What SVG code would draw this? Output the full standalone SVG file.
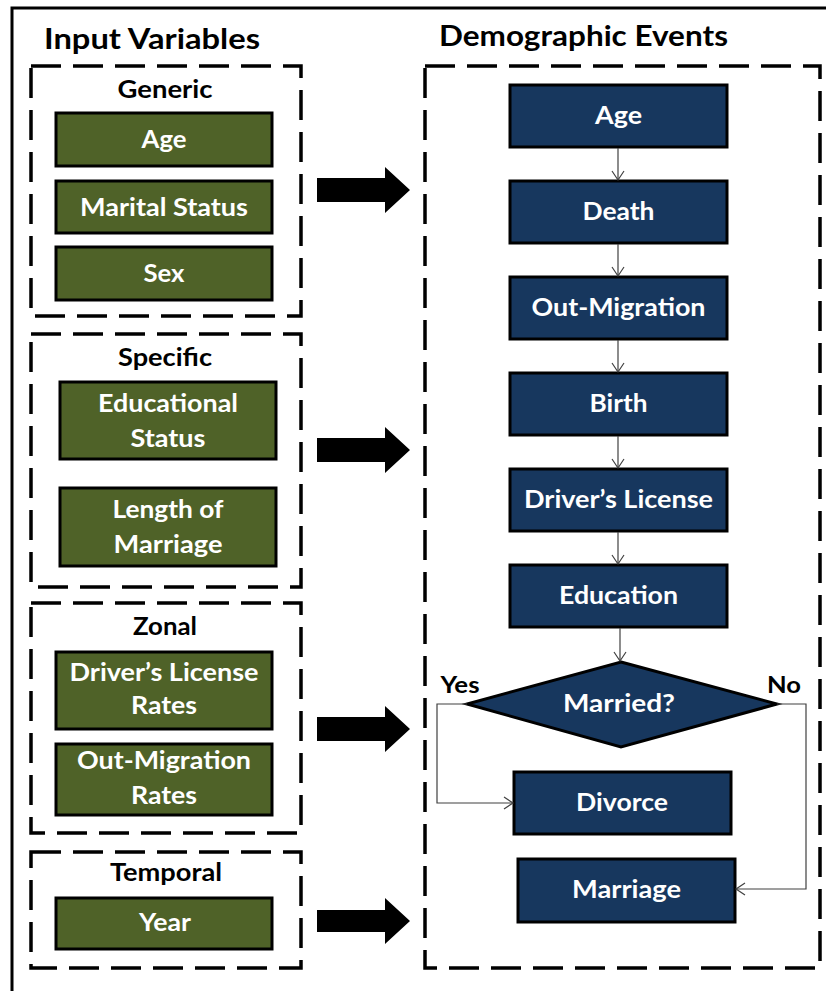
<svg xmlns="http://www.w3.org/2000/svg" width="826" height="991" viewBox="0 0 826 991">
<style>
.frame{fill:none;stroke:#000;stroke-width:3}
.dash{fill:none;stroke:#000;stroke-width:3.5;stroke-dasharray:30 12}
.g{fill:#4F6228;stroke:#000;stroke-width:3}
.b{fill:#17375E;stroke:#000;stroke-width:3}
.t{font-family:Lato,"Liberation Sans",sans-serif;font-weight:bold;text-anchor:middle}
.w{fill:#fff;font-size:24px}
.k{fill:#000}
.title{font-size:29px}
.lab{font-size:24px}
.yn{font-size:22px}
.conn{fill:none;stroke:#404040;stroke-width:1.2;marker-end:url(#open)}
.block{fill:#000}
</style>
<defs>
<marker id="open" markerWidth="12" markerHeight="14" refX="10" refY="7" orient="auto" markerUnits="userSpaceOnUse">
<path d="M1,1 L10,7 L1,13" fill="none" stroke="#404040" stroke-width="1.2"/>
</marker>
</defs>
<rect width="826" height="991" fill="#fff"/>
<rect class="frame" x="12" y="8" width="830" height="1000"/>

<text class="t k title" x="152" y="49" textLength="216" lengthAdjust="spacingAndGlyphs">Input Variables</text>
<text class="t k title" x="583.5" y="46" textLength="289" lengthAdjust="spacingAndGlyphs">Demographic Events</text>

<g id="generic">
<rect class="dash" x="31" y="66" width="270" height="250"/>
<text class="t k lab" x="165" y="98" textLength="95" lengthAdjust="spacingAndGlyphs">Generic</text>
</g>
<g id="in-age"><rect class="g" x="56" y="113" width="216" height="53"/><text class="t w" x="164" y="148" textLength="45" lengthAdjust="spacingAndGlyphs">Age</text></g>
<g id="in-marital"><rect class="g" x="56" y="181" width="216" height="52"/><text class="t w" x="164" y="216" textLength="168" lengthAdjust="spacingAndGlyphs">Marital Status</text></g>
<g id="in-sex"><rect class="g" x="56" y="247" width="216" height="53"/><text class="t w" x="164" y="282" textLength="41" lengthAdjust="spacingAndGlyphs">Sex</text></g>

<g id="specific">
<rect class="dash" x="31" y="334" width="270" height="253"/>
<text class="t k lab" x="165" y="366" textLength="94" lengthAdjust="spacingAndGlyphs">Specific</text>
</g>
<g id="in-edu"><rect class="g" x="60" y="382" width="216" height="77"/><text class="t w" x="168" y="412" textLength="140" lengthAdjust="spacingAndGlyphs">Educational</text><text class="t w" x="168" y="447" textLength="75" lengthAdjust="spacingAndGlyphs">Status</text></g>
<g id="in-length"><rect class="g" x="60" y="488" width="216" height="78"/><text class="t w" x="168" y="518" textLength="111" lengthAdjust="spacingAndGlyphs">Length of</text><text class="t w" x="168" y="553" textLength="109" lengthAdjust="spacingAndGlyphs">Marriage</text></g>

<g id="zonal">
<rect class="dash" x="31" y="603" width="270" height="230"/>
<text class="t k lab" x="165" y="635" textLength="64" lengthAdjust="spacingAndGlyphs">Zonal</text>
</g>
<g id="in-dl"><rect class="g" x="56" y="652" width="216" height="77"/><text class="t w" x="164" y="681" textLength="189" lengthAdjust="spacingAndGlyphs">Driver’s License</text><text class="t w" x="164" y="714" textLength="66" lengthAdjust="spacingAndGlyphs">Rates</text></g>
<g id="in-om"><rect class="g" x="56" y="744" width="216" height="71"/><text class="t w" x="164" y="769" textLength="174" lengthAdjust="spacingAndGlyphs">Out-Migration</text><text class="t w" x="164" y="804" textLength="66" lengthAdjust="spacingAndGlyphs">Rates</text></g>

<g id="temporal">
<rect class="dash" x="31" y="852" width="270" height="116"/>
<text class="t k lab" x="166" y="881" textLength="112" lengthAdjust="spacingAndGlyphs">Temporal</text>
</g>
<g id="in-year"><rect class="g" x="56" y="898" width="216" height="51"/><text class="t w" x="165" y="931" textLength="52" lengthAdjust="spacingAndGlyphs">Year</text></g>

<g id="events">
<rect class="dash" x="425" y="66" width="395" height="902"/>
</g>
<g id="ev-age"><rect class="b" x="510" y="85" width="217" height="62"/><text class="t w" x="618.5" y="124" textLength="47" lengthAdjust="spacingAndGlyphs">Age</text></g>
<g id="ev-death"><rect class="b" x="510" y="181" width="217" height="62"/><text class="t w" x="618.5" y="220" textLength="72" lengthAdjust="spacingAndGlyphs">Death</text></g>
<g id="ev-om"><rect class="b" x="510" y="277" width="217" height="62"/><text class="t w" x="618.5" y="316" textLength="174" lengthAdjust="spacingAndGlyphs">Out-Migration</text></g>
<g id="ev-birth"><rect class="b" x="510" y="373" width="217" height="62"/><text class="t w" x="618.5" y="412" textLength="58" lengthAdjust="spacingAndGlyphs">Birth</text></g>
<g id="ev-dl"><rect class="b" x="510" y="469" width="217" height="62"/><text class="t w" x="618.5" y="508" textLength="189" lengthAdjust="spacingAndGlyphs">Driver’s License</text></g>
<g id="ev-edu"><rect class="b" x="510" y="565" width="217" height="62"/><text class="t w" x="618.5" y="604" textLength="119" lengthAdjust="spacingAndGlyphs">Education</text></g>
<g id="ev-married"><polygon class="b" points="621,662 777,704 621,747 467,704"/><text class="t w" x="619" y="712" textLength="112" lengthAdjust="spacingAndGlyphs">Married?</text></g>
<g id="ev-divorce"><rect class="b" x="514" y="772" width="217" height="62"/><text class="t w" x="622" y="811" textLength="92" lengthAdjust="spacingAndGlyphs">Divorce</text></g>
<g id="ev-marriage"><rect class="b" x="518" y="859" width="217" height="63"/><text class="t w" x="626.5" y="898" textLength="109" lengthAdjust="spacingAndGlyphs">Marriage</text></g>

<text class="t k yn" x="460" y="693" textLength="39" lengthAdjust="spacingAndGlyphs">Yes</text>
<text class="t k yn" x="784" y="693" textLength="34" lengthAdjust="spacingAndGlyphs">No</text>

<g id="connectors">
<path class="conn" d="M618,148 V180"/>
<path class="conn" d="M618,244 V276"/>
<path class="conn" d="M618,340 V372"/>
<path class="conn" d="M618,436 V468"/>
<path class="conn" d="M618,532 V564"/>
<path class="conn" d="M620,628 V661"/>
<path class="conn" d="M467,704 H437 V803 H513"/>
<path class="conn" d="M777,704 H806 V889 H736"/>
<polygon class="block" points="317,178 385,178 385,167 410,190 385,213 385,202 317,202"/>
<polygon class="block" points="317,438 385,438 385,427 410,450 385,473 385,462 317,462"/>
<polygon class="block" points="317,717 385,717 385,706 410,729 385,752 385,741 317,741"/>
<polygon class="block" points="317,910 385,910 385,898 410,921 385,944 385,932 317,932"/>
</g>
</svg>
